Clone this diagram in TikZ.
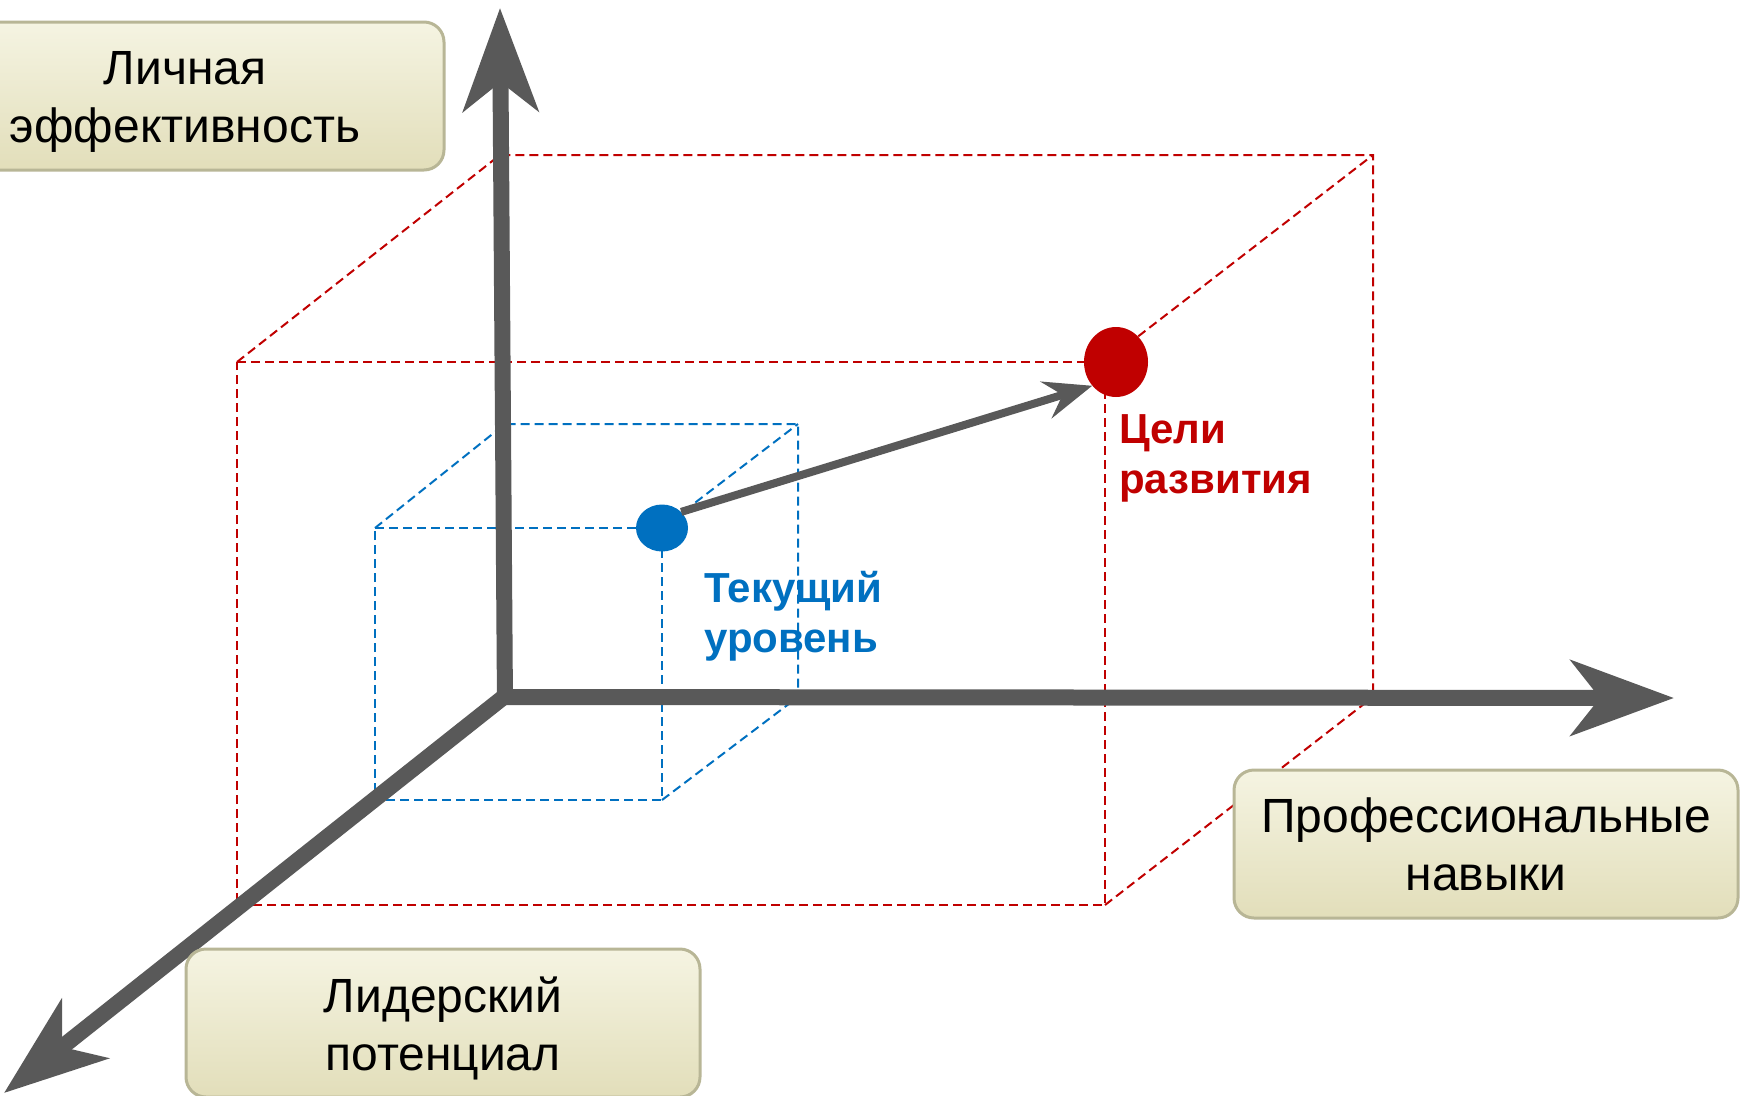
\documentclass[tikz,border=0pt]{standalone}
\usepackage{fontspec}
\setmainfont{Liberation Sans}
\usetikzlibrary{arrows.meta,shapes.geometric}
\definecolor{axisgray}{HTML}{595959}
\definecolor{goalred}{HTML}{C00000}
\definecolor{curblue}{HTML}{0070C0}
\definecolor{boxtop}{HTML}{F5F4E2}
\definecolor{boxbot}{HTML}{E2DEBA}
\definecolor{boxline}{HTML}{B8B696}
\tikzset{
  reddash/.style={draw=goalred, line width=2pt, dash pattern=on 9pt off 5pt},
  bluedash/.style={draw=curblue, line width=2pt, dash pattern=on 9pt off 5pt},
  axisline/.style={draw=axisgray, line width=16pt, -{Stealth[length=103pt,width=75pt,inset=29pt]}},
  moveline/.style={draw=axisgray, line width=8pt, -{Stealth[length=48pt,width=38pt,inset=17pt]}},
  labelbox/.style={rectangle, rounded corners=20pt, draw=boxline, line width=3pt,
    top color=boxtop, bottom color=boxbot, align=center, inner sep=0pt,
    minimum height=148pt, font=\fontsize{48}{58}\selectfont},
  dotlabel/.style={align=left, inner sep=0pt, anchor=north west,
    font=\bfseries\fontsize{42}{50}\selectfont},
}
\begin{document}
\begin{tikzpicture}[x=1pt,y=-1pt]
\useasboundingbox (0,0) rectangle (1740,1095);
% red box corners
\coordinate (rFTL) at (237,362);
\coordinate (rFTR) at (1105,362);
\coordinate (rFBL) at (237,905);
\coordinate (rFBR) at (1105,905);
\coordinate (rBTL) at (500,155);
\coordinate (rBTR) at (1373,155);
\coordinate (rBBR) at (1373,697);
% blue box corners
\coordinate (bFTL) at (375,528);
\coordinate (bFTR) at (662,528);
\coordinate (bFBL) at (375,800);
\coordinate (bFBR) at (662,800);
\coordinate (bBTL) at (505,424);
\coordinate (bBTR) at (798,424);
\coordinate (bBBR) at (798,697);
% axes points
\coordinate (orig) at (505,696);
\coordinate (ytip) at (500,8);
\coordinate (xtip) at (1674,698);
\coordinate (ztip) at (4,1093);
\coordinate (ybase) at (505,705);
\coordinate (xbase) at (497,697);

% red dashed box
\draw[reddash] (rFTL) -- (rFTR) -- (rFBR) -- (rFBL) -- cycle;
\draw[reddash] (rFTL) -- (rBTL) -- (rBTR) -- (rBBR);
\draw[reddash] (rFTR) -- (rBTR);
\draw[reddash] (rFBR) -- (rBBR);
% blue dashed box
\draw[bluedash] (bFTL) -- (bFTR) -- (bFBR) -- (bFBL) -- cycle;
\draw[bluedash] (bFTL) -- (bBTL) -- (bBTR) -- (bBBR);
\draw[bluedash] (bFTR) -- (bBTR);
\draw[bluedash] (bFBR) -- (bBBR);

% axes
\draw[axisline] (ybase) -- (ytip);
\draw[axisline] (xbase) -- (xtip);
\draw[axisline] (orig) -- (ztip);

% dots
\node[ellipse, fill=curblue, minimum width=52pt, minimum height=47pt, inner sep=0pt] (bdot) at (662,528) {};
\node[ellipse, fill=goalred, minimum width=64pt, minimum height=70pt, inner sep=0pt] (rdot) at (1116,362) {};
\draw[moveline] (bdot.40) -- (rdot.225);

% dot labels
\node[dotlabel, text=goalred] (goallbl) at (1119,414) {Цели\\развития};
\node[dotlabel, text=curblue] (curlbl) at (704,571) {Текущий\\уровень};

% axis label boxes
\node[labelbox, minimum width=518pt] (ybox) at (185,96) {\raisebox{-6pt}[\height][\depth]{\parbox{518pt}{\centering Личная\\эффективность}}};
\node[labelbox, minimum width=504pt] (xbox) at (1486,844) {Профессиональные\\навыки};
\node[labelbox, minimum width=514pt] (zbox) at (443,1023) {\raisebox{-5pt}[\height][\depth]{\parbox{514pt}{\centering Лидерский\\потенциал}}};
\end{tikzpicture}
\end{document}
